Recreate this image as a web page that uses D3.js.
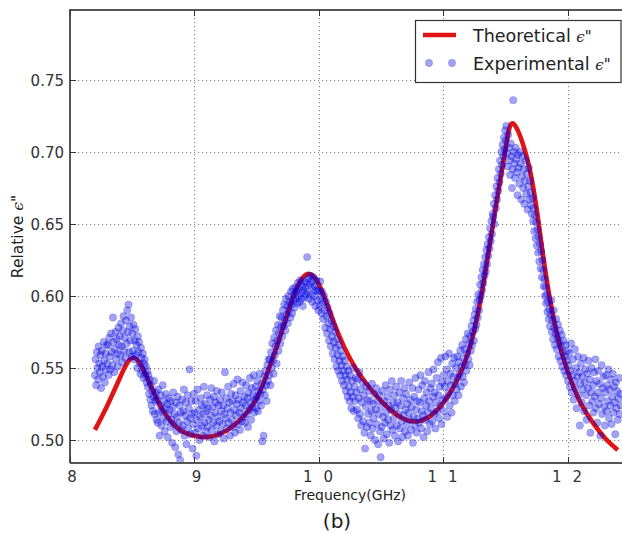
<!DOCTYPE html>
<html><head><meta charset="utf-8">
<script src="https://cdn.jsdelivr.net/npm/d3@7"></script>
<style>body{margin:0;background:#fff}svg{display:block}text{font-family:"DejaVu Sans",sans-serif}</style>
</head><body><svg id="c" width="622" height="533"></svg>
<script>
const xTicks=[8,9,10,11,12];
const xTickLabels=["8","9","10","11","12"];
const yTicks=[0.50,0.55,0.60,0.65,0.70,0.75];
const yTickLabels=["0.50","0.55","0.60","0.65","0.70","0.75"];
const xDomain=[8,12.434];
const yDomain=[0.484,0.7986];
const theoryFreq=[8.2,8.3,8.4,8.5,8.6,8.7,8.8,8.9,9.0,9.1,9.2,9.3,9.4,9.5,9.6,9.7,9.8,9.9,10.0,10.1,10.2,10.3,10.4,10.5,10.6,10.7,10.8,10.9,11.0,11.1,11.2,11.3,11.4,11.5,11.57,11.7,11.8,11.9,12.0,12.1,12.2,12.3,12.4];
const theoryEps=[.507,.524,.543,.557,.547,.528,.514,.506,.503,.502,.504,.509,.517,.529,.550,.575,.601,.615,.608,.586,.565,.549,.537,.527,.519,.514,.513,.517,.526,.540,.561,.598,.651,.703,.719,.685,.628,.578,.547,.526,.512,.501,.493];
const experimental=[
[8.200,.545],[8.205,.556],[8.210,.538],[8.215,.561],[8.220,.550],[8.225,.542],[8.230,.565],[8.235,.553],[8.240,.547],[8.245,.559],[8.250,.536],[8.255,.562],[8.260,.551],[8.265,.544],[8.270,.568],[8.275,.555],[8.280,.540],[8.285,.560],[8.290,.549],[8.295,.566],
[8.300,.553],[8.305,.566],[8.310,.545],[8.315,.571],[8.320,.558],[8.325,.549],[8.330,.574],[8.335,.561],[8.340,.552],[8.345,.585],[8.350,.568],[8.355,.547],[8.360,.563],[8.365,.575],[8.370,.556],[8.375,.570],[8.380,.560],[8.385,.551],[8.390,.578],[8.395,.566],
[8.400,.572],[8.405,.559],[8.410,.581],[8.415,.565],[8.420,.554],[8.425,.576],[8.430,.586],[8.435,.562],[8.440,.571],[8.445,.557],[8.450,.583],[8.455,.567],[8.460,.590],[8.465,.575],[8.470,.594],[8.475,.561],[8.480,.579],[8.485,.569],[8.490,.585],[8.495,.558],
[8.500,.574],[8.505,.562],[8.510,.580],[8.515,.556],[8.520,.569],[8.525,.577],[8.530,.559],[8.535,.566],[8.540,.550],[8.545,.572],[8.550,.561],[8.555,.568],[8.560,.553],[8.565,.546],[8.570,.564],[8.575,.557],[8.580,.548],[8.585,.560],[8.590,.543],[8.595,.553],
[8.600,.556],[8.605,.545],[8.610,.551],[8.615,.540],[8.620,.548],[8.625,.537],[8.630,.545],[8.635,.532],[8.640,.542],[8.645,.528],[8.650,.538],[8.655,.524],[8.660,.534],[8.665,.520],[8.670,.530],[8.675,.541],[8.680,.518],[8.685,.527],[8.690,.533],[8.695,.514],
[8.700,.528],[8.705,.512],[8.710,.535],[8.715,.519],[8.720,.503],[8.725,.524],[8.730,.531],[8.735,.510],[8.740,.520],[8.745,.538],[8.750,.515],[8.755,.527],[8.760,.506],[8.765,.522],[8.770,.532],[8.775,.513],[8.780,.525],[8.785,.502],[8.790,.518],[8.795,.529],
[8.800,.521],[8.805,.509],[8.810,.527],[8.815,.514],[8.820,.498],[8.825,.523],[8.830,.533],[8.835,.511],[8.840,.518],[8.845,.495],[8.850,.526],[8.855,.506],[8.860,.516],[8.865,.530],[8.870,.490],[8.875,.512],[8.880,.524],[8.885,.486],[8.890,.519],[8.895,.507],
[8.900,.528],[8.905,.510],[8.910,.520],[8.915,.535],[8.920,.503],[8.925,.517],[8.930,.526],[8.935,.497],[8.940,.513],[8.945,.531],[8.950,.508],[8.955,.522],[8.960,.549],[8.965,.515],[8.970,.504],[8.975,.527],[8.980,.518],[8.985,.494],[8.990,.511],[8.995,.532],
[9.000,.519],[9.005,.505],[9.010,.527],[9.015,.489],[9.020,.514],[9.025,.535],[9.030,.508],[9.035,.521],[9.040,.500],[9.045,.516],[9.050,.529],[9.055,.510],[9.060,.524],[9.065,.503],[9.070,.518],[9.075,.537],[9.080,.512],[9.085,.525],[9.090,.506],[9.095,.520],
[9.100,.531],[9.105,.509],[9.110,.522],[9.115,.514],[9.120,.502],[9.125,.528],[9.130,.517],[9.135,.536],[9.140,.507],[9.145,.523],[9.150,.512],[9.155,.530],[9.160,.499],[9.165,.519],[9.170,.526],[9.175,.510],[9.180,.534],[9.185,.516],[9.190,.504],[9.195,.524],
[9.200,.513],[9.205,.528],[9.210,.506],[9.215,.520],[9.220,.533],[9.225,.511],[9.230,.524],[9.235,.501],[9.240,.518],[9.245,.547],[9.250,.515],[9.255,.529],[9.260,.508],[9.265,.522],[9.270,.537],[9.275,.512],[9.280,.526],[9.285,.503],[9.290,.519],[9.295,.532],
[9.300,.514],[9.305,.527],[9.310,.509],[9.315,.539],[9.320,.521],[9.325,.505],[9.330,.531],[9.335,.517],[9.340,.525],[9.345,.542],[9.350,.511],[9.355,.528],[9.360,.519],[9.365,.507],[9.370,.534],[9.375,.522],[9.380,.513],[9.385,.540],[9.390,.526],[9.395,.516],
[9.400,.530],[9.405,.512],[9.410,.524],[9.415,.538],[9.420,.518],[9.425,.529],[9.430,.509],[9.435,.533],[9.440,.521],[9.445,.543],[9.450,.526],[9.455,.514],[9.460,.536],[9.465,.523],[9.470,.531],[9.475,.545],[9.480,.519],[9.485,.528],[9.490,.537],[9.495,.522],
[9.500,.530],[9.505,.541],[9.510,.520],[9.515,.534],[9.520,.527],[9.525,.546],[9.530,.532],[9.535,.524],[9.540,.539],[9.545,.499],[9.550,.535],[9.555,.503],[9.560,.544],[9.565,.531],[9.570,.548],[9.575,.538],[9.580,.527],[9.585,.552],[9.590,.541],[9.595,.556],
[9.600,.545],[9.605,.556],[9.610,.538],[9.615,.561],[9.620,.550],[9.625,.567],[9.630,.555],[9.635,.546],[9.640,.571],[9.645,.559],[9.650,.565],[9.655,.576],[9.660,.553],[9.665,.569],[9.670,.580],[9.675,.562],[9.680,.574],[9.685,.586],[9.690,.567],[9.695,.579],
[9.700,.585],[9.705,.572],[9.710,.590],[9.715,.579],[9.720,.594],[9.725,.583],[9.730,.576],[9.735,.598],[9.740,.587],[9.745,.593],[9.750,.581],[9.755,.600],[9.760,.590],[9.765,.596],[9.770,.585],[9.775,.603],[9.780,.594],[9.785,.588],[9.790,.605],[9.795,.597],
[9.800,.601],[9.805,.592],[9.810,.606],[9.815,.598],[9.820,.603],[9.825,.595],[9.830,.609],[9.835,.600],[9.840,.605],[9.845,.596],[9.850,.611],[9.855,.602],[9.860,.598],[9.865,.607],[9.870,.593],[9.875,.604],[9.880,.610],[9.885,.599],[9.890,.606],[9.895,.601],
[9.900,.609],[9.905,.627],[9.910,.603],[9.915,.612],[9.920,.598],[9.925,.608],[9.930,.614],[9.935,.601],[9.940,.610],[9.945,.596],[9.950,.606],[9.955,.613],[9.960,.600],[9.965,.607],[9.970,.593],[9.975,.604],[9.980,.611],[9.985,.597],[9.990,.603],[9.995,.590],
[10.000,.604],[10.005,.593],[10.010,.610],[10.015,.598],[10.020,.588],[10.025,.603],[10.030,.595],[10.035,.584],[10.040,.600],[10.045,.590],[10.050,.578],[10.055,.596],[10.060,.586],[10.065,.574],[10.070,.592],[10.075,.581],[10.080,.569],[10.085,.588],[10.090,.577],[10.095,.565],
[10.100,.583],[10.105,.572],[10.110,.560],[10.115,.579],[10.120,.568],[10.125,.556],[10.130,.575],[10.135,.564],[10.140,.551],[10.145,.570],[10.150,.559],[10.155,.548],[10.160,.566],[10.165,.555],[10.170,.545],[10.175,.562],[10.180,.552],[10.185,.541],[10.190,.558],[10.195,.548],
[10.200,.538],[10.205,.555],[10.210,.545],[10.215,.534],[10.220,.551],[10.225,.542],[10.230,.530],[10.235,.548],[10.240,.537],[10.245,.527],[10.250,.545],[10.255,.533],[10.260,.522],[10.265,.541],[10.270,.530],[10.275,.550],[10.280,.520],[10.285,.537],[10.290,.527],[10.295,.543],
[10.300,.533],[10.305,.521],[10.310,.542],[10.315,.515],[10.320,.529],[10.325,.547],[10.330,.518],[10.335,.535],[10.340,.510],[10.345,.526],[10.350,.540],[10.355,.513],[10.360,.531],[10.365,.505],[10.370,.494],[10.375,.523],[10.380,.537],[10.385,.509],[10.390,.528],[10.395,.518],
[10.400,.534],[10.405,.512],[10.410,.527],[10.415,.503],[10.420,.520],[10.425,.539],[10.430,.508],[10.435,.525],[10.440,.515],[10.445,.532],[10.450,.500],[10.455,.521],[10.460,.536],[10.465,.511],[10.470,.527],[10.475,.497],[10.480,.518],[10.485,.531],[10.490,.506],[10.495,.488],
[10.500,.523],[10.505,.509],[10.510,.534],[10.515,.516],[10.520,.501],[10.525,.527],[10.530,.512],[10.535,.538],[10.540,.519],[10.545,.504],[10.550,.530],[10.555,.514],[10.560,.524],[10.565,.498],[10.570,.535],[10.575,.510],[10.580,.521],[10.585,.541],[10.590,.507],[10.595,.526],
[10.600,.515],[10.605,.531],[10.610,.503],[10.615,.522],[10.620,.537],[10.625,.510],[10.630,.526],[10.635,.499],[10.640,.518],[10.645,.533],[10.650,.508],[10.655,.524],[10.660,.541],[10.665,.513],[10.670,.502],[10.675,.529],[10.680,.517],[10.685,.536],[10.690,.506],[10.695,.521],
[10.700,.532],[10.705,.511],[10.710,.525],[10.715,.503],[10.720,.519],[10.725,.540],[10.730,.514],[10.735,.528],[10.740,.507],[10.745,.523],[10.750,.536],[10.755,.498],[10.760,.516],[10.765,.530],[10.770,.510],[10.775,.543],[10.780,.521],[10.785,.505],[10.790,.527],[10.795,.515],
[10.800,.535],[10.805,.512],[10.810,.526],[10.815,.545],[10.820,.508],[10.825,.520],[10.830,.538],[10.835,.517],[10.840,.502],[10.845,.529],[10.850,.541],[10.855,.514],[10.860,.524],[10.865,.533],[10.870,.506],[10.875,.519],[10.880,.547],[10.885,.527],[10.890,.511],[10.895,.536],
[10.900,.522],[10.905,.539],[10.910,.513],[10.915,.530],[10.920,.549],[10.925,.518],[10.930,.533],[10.935,.508],[10.940,.526],[10.945,.543],[10.950,.520],[10.955,.554],[10.960,.531],[10.965,.515],[10.970,.537],[10.975,.524],[10.980,.557],[10.985,.511],[10.990,.540],[10.995,.528],
[11.000,.545],[11.005,.520],[11.010,.537],[11.015,.558],[11.020,.529],[11.025,.549],[11.030,.516],[11.035,.541],[11.040,.533],[11.045,.560],[11.050,.524],[11.055,.546],[11.060,.538],[11.065,.519],[11.070,.553],[11.075,.531],[11.080,.544],[11.085,.557],[11.090,.527],[11.095,.539],
[11.100,.550],[11.105,.535],[11.110,.558],[11.115,.543],[11.120,.531],[11.125,.554],[11.130,.546],[11.135,.562],[11.140,.537],[11.145,.551],[11.150,.566],[11.155,.544],[11.160,.557],[11.165,.540],[11.170,.563],[11.175,.552],[11.180,.570],[11.185,.548],[11.190,.560],[11.195,.574],
[11.200,.556],[11.205,.567],[11.210,.552],[11.215,.572],[11.220,.562],[11.225,.579],[11.230,.566],[11.235,.575],[11.240,.583],[11.245,.569],[11.250,.587],[11.255,.577],[11.260,.591],[11.265,.580],[11.270,.596],[11.275,.585],[11.280,.601],[11.285,.590],[11.290,.597],[11.295,.608],
[11.300,.600],[11.305,.613],[11.310,.604],[11.315,.618],[11.320,.609],[11.325,.622],[11.330,.614],[11.335,.627],[11.340,.617],[11.345,.632],[11.350,.622],[11.355,.636],[11.360,.628],[11.365,.641],[11.370,.633],[11.375,.647],[11.380,.638],[11.385,.652],[11.390,.643],[11.395,.657],
[11.400,.655],[11.405,.664],[11.410,.650],[11.415,.670],[11.420,.661],[11.425,.676],[11.430,.667],[11.435,.682],[11.440,.673],[11.445,.688],[11.450,.679],[11.455,.694],[11.460,.685],[11.465,.700],[11.470,.691],[11.475,.705],[11.480,.697],[11.485,.710],[11.490,.702],[11.495,.715],
[11.500,.708],[11.505,.718],[11.510,.699],[11.515,.690],[11.520,.712],[11.525,.703],[11.530,.694],[11.535,.684],[11.540,.706],[11.545,.697],[11.550,.675],[11.555,.688],[11.560,.736],[11.565,.700],[11.570,.692],[11.575,.682],[11.580,.703],[11.585,.695],[11.590,.686],[11.595,.670],
[11.600,.698],[11.605,.689],[11.610,.678],[11.615,.700],[11.620,.692],[11.625,.667],[11.630,.683],[11.635,.697],[11.640,.675],[11.645,.688],[11.650,.664],[11.655,.680],[11.660,.694],[11.665,.671],[11.670,.685],[11.675,.660],[11.680,.676],[11.685,.689],[11.690,.667],[11.695,.680],
[11.700,.672],[11.705,.663],[11.710,.657],[11.715,.668],[11.720,.652],[11.725,.661],[11.730,.645],[11.735,.656],[11.740,.640],[11.745,.651],[11.750,.635],[11.755,.646],[11.760,.630],[11.765,.641],[11.770,.624],[11.775,.636],[11.780,.619],[11.785,.631],[11.790,.613],[11.795,.625],
[11.800,.618],[11.805,.607],[11.810,.612],[11.815,.600],[11.820,.606],[11.825,.595],[11.830,.601],[11.835,.589],[11.840,.596],[11.845,.584],[11.850,.591],[11.855,.579],[11.860,.587],[11.865,.597],[11.870,.575],[11.875,.583],[11.880,.570],[11.885,.590],[11.890,.578],[11.895,.566],
[11.900,.574],[11.905,.584],[11.910,.563],[11.915,.571],[11.920,.580],[11.925,.558],[11.930,.568],[11.935,.576],[11.940,.555],[11.945,.565],[11.950,.573],[11.955,.551],[11.960,.561],[11.965,.569],[11.970,.548],[11.975,.558],[11.980,.566],[11.985,.545],[11.990,.555],[11.995,.562],
[12.000,.541],[12.005,.552],[12.010,.560],[12.015,.537],[12.020,.548],[12.025,.567],[12.030,.533],[12.035,.545],[12.040,.556],[12.045,.528],[12.050,.541],[12.055,.563],[12.060,.536],[12.065,.550],[12.070,.522],[12.075,.544],[12.080,.558],[12.085,.531],[12.090,.547],[12.095,.510],
[12.100,.539],[12.105,.553],[12.110,.526],[12.115,.544],[12.120,.535],[12.125,.557],[12.130,.520],[12.135,.540],[12.140,.549],[12.145,.531],[12.150,.514],[12.155,.546],[12.160,.536],[12.165,.555],[12.170,.524],[12.175,.542],[12.180,.505],[12.185,.533],[12.190,.550],[12.195,.527],
[12.200,.538],[12.205,.519],[12.210,.547],[12.215,.530],[12.220,.556],[12.225,.522],[12.230,.541],[12.235,.512],[12.240,.533],[12.245,.548],[12.250,.525],[12.255,.539],[12.260,.503],[12.265,.529],[12.270,.552],[12.275,.518],[12.280,.536],[12.285,.544],[12.290,.523],[12.295,.510],
[12.300,.533],[12.305,.545],[12.310,.520],[12.315,.538],[12.320,.527],[12.325,.549],[12.330,.515],[12.335,.535],[12.340,.524],[12.345,.542],[12.350,.511],[12.355,.530],[12.360,.546],[12.365,.519],[12.370,.537],[12.375,.526],[12.380,.504],[12.385,.540],[12.390,.522],[12.395,.534],
[12.400,.514],[12.405,.529],[12.410,.543],[12.415,.518],[12.420,.532],[12.425,.524]
];
const legendLabels=["Theoretical ","Experimental "];
const xAxisTitle="Frequency(GHz)";
const yAxisTitle="Relative ";
const panelLabel="(b)";

const L=70,R=622,T=10,B=463;
const svg=d3.select("#c");
svg.append("rect").attr("width",622).attr("height",533).attr("fill","#fff");
const x=d3.scaleLinear().domain(xDomain).range([L,R]);
const y=d3.scaleLinear().domain(yDomain).range([B,T]);

svg.append("defs").append("clipPath").attr("id","clip").append("rect").attr("x",L).attr("y",T).attr("width",R-L+10).attr("height",B-T);

// grid
const grid=svg.append("g").attr("stroke","#808080").attr("stroke-width",1).attr("stroke-dasharray","1.2,2.8");
grid.selectAll("line.gx").data(xTicks.filter(d=>d>xDomain[0])).join("line")
  .attr("x1",d=>Math.round(x(d))+0.5).attr("x2",d=>Math.round(x(d))+0.5).attr("y1",T).attr("y2",B);
grid.selectAll("line.gy").data(yTicks).join("line").attr("class","gy")
  .attr("x1",L).attr("x2",R).attr("y1",d=>Math.round(y(d))+0.5).attr("y2",d=>Math.round(y(d))+0.5);

const plot=svg.append("g").attr("clip-path","url(#clip)");
const line=d3.line().x(d=>x(d[0])).y(d=>y(d[1])).curve(d3.curveNatural);
plot.append("path").datum(theoryFreq.map((f,i)=>[f,theoryEps[i]]))
  .attr("d",line).attr("fill","none").attr("stroke","#e01414").attr("stroke-width",4.6).attr("stroke-linecap","butt");
plot.append("g").selectAll("circle").data(experimental).join("circle")
  .attr("cx",d=>x(d[0])).attr("cy",d=>y(d[1])).attr("r",3.7)
  .attr("fill","#0000e0").attr("fill-opacity",0.36)
  .attr("stroke","#0000e0").attr("stroke-opacity",0.2).attr("stroke-width",0.8);

// spines
const sp=svg.append("g").attr("stroke","#555").attr("stroke-width",2).attr("fill","none");
sp.append("path").attr("d",`M${L},${B} L${L},${T} L${R+10},${T}`);
sp.append("path").attr("d",`M${L},${B} L${R+10},${B}`);

// ticks
const tk=svg.append("g").attr("stroke","#333").attr("stroke-width",1);
xTicks.forEach(t=>{const px=Math.round(x(t))+0.5;
  tk.append("line").attr("x1",px).attr("x2",px).attr("y1",B).attr("y2",B-6);
  tk.append("line").attr("x1",px).attr("x2",px).attr("y1",T).attr("y2",T+6);});
yTicks.forEach(t=>{const py=Math.round(y(t))+0.5;
  tk.append("line").attr("x1",L).attr("x2",L+6).attr("y1",py).attr("y2",py);});

// tick labels
const ls=11;
svg.append("g").selectAll("text").data(xTicks).join("text")
  .attr("x",d=>x(d)).attr("y",482).attr("dx",(d,i)=>ls/2+(xTickLabels[i].length>1?-1:2)).attr("text-anchor","middle")
  .attr("font-size",15).attr("fill","#333").style("letter-spacing",ls+"px")
  .text((d,i)=>xTickLabels[i]);
svg.append("g").selectAll("text").data(yTicks).join("text")
  .attr("x",64).attr("y",d=>y(d)+1).attr("dy","0.36em").attr("text-anchor","end")
  .attr("font-size",15).attr("fill","#333").text((d,i)=>yTickLabels[i]);

// axis titles
svg.append("text").attr("x",350).attr("y",500).attr("text-anchor","middle").attr("font-size",14).attr("fill","#222").text(xAxisTitle);
const yt=svg.append("text").attr("transform",`translate(23,${(T+B)/2}) rotate(-90)`).attr("text-anchor","middle").attr("font-size",15.5).attr("fill","#222");
yt.append("tspan").text(yAxisTitle);
yt.append("tspan").attr("font-family","DejaVu Serif").attr("font-style","italic").text("ϵ");
yt.append("tspan").text("\"");
svg.append("text").attr("x",337).attr("y",528).attr("text-anchor","middle").attr("font-size",20).attr("fill","#222").text(panelLabel);

// legend
const lg=svg.append("g");
lg.append("rect").attr("x",415.5).attr("y",20.5).attr("width",205.5).attr("height",62).attr("fill","#fff").attr("stroke","#333").attr("stroke-width",1.2);
lg.append("line").attr("x1",423).attr("x2",456).attr("y1",35).attr("y2",35).attr("stroke","#e01414").attr("stroke-width",4.6);
[429,452].forEach(cx=>lg.append("circle").attr("cx",cx).attr("cy",63).attr("r",3.7).attr("fill","#0000e0").attr("fill-opacity",0.36).attr("stroke","#0000e0").attr("stroke-opacity",0.2).attr("stroke-width",0.8));
legendLabels.forEach((lab,i)=>{
  const t=lg.append("text").attr("x",473).attr("y",i===0?42:70).attr("font-size",17.5).attr("fill","#222");
  t.append("tspan").text(lab);
  t.append("tspan").attr("font-family","DejaVu Serif").attr("font-style","italic").attr("font-size",15).text("ϵ");
  t.append("tspan").attr("font-size",15).text("\"");
});
</script></body></html>
